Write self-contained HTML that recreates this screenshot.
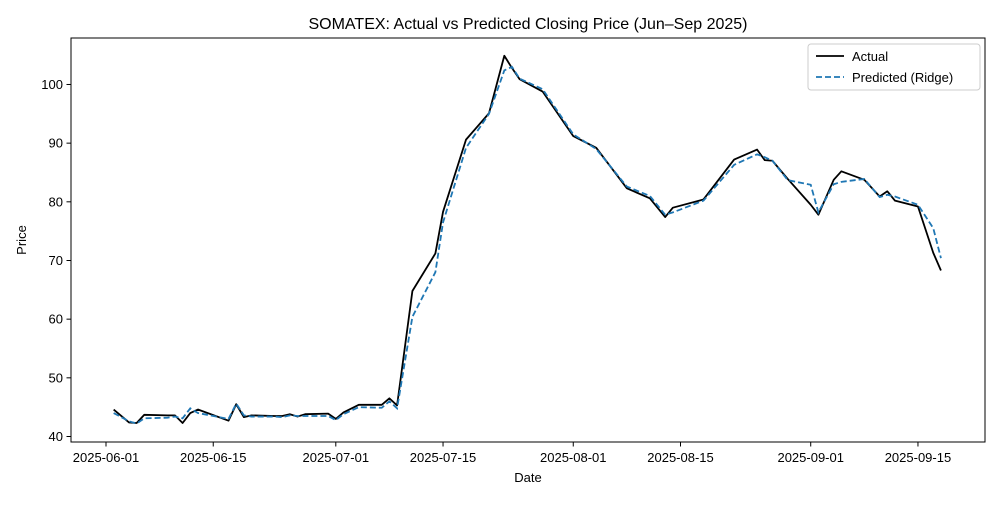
<!DOCTYPE html>
<html><head><meta charset="utf-8"><style>
body{margin:0;background:#fff}
svg text{font-family:"Liberation Sans","DejaVu Sans",sans-serif}
</style></head><body>
<svg id="chart" width="1000" height="500" xmlns="http://www.w3.org/2000/svg">
<rect width="1000" height="500" fill="#fff"/>
<text x="528" y="29" font-size="16" text-anchor="middle">SOMATEX: Actual vs Predicted Closing Price (Jun–Sep 2025)</text>
<text x="528" y="482" font-size="13" text-anchor="middle">Date</text>
<text x="26" y="240" font-size="13" text-anchor="middle" transform="rotate(-90 26 240)">Price</text>
<g id="ticks"></g>
<g id="series"></g>
<rect x="71" y="38" width="914" height="404" fill="none" stroke="#000" stroke-width="1"/>
<g>
<rect x="808" y="44" width="172" height="46" fill="#fff" stroke="#ccc" rx="3"/>
<line x1="816" y1="56" x2="844" y2="56" stroke="#000" stroke-width="1.8"/>
<text x="852" y="61" font-size="13">Actual</text>
<line x1="816" y1="77" x2="844" y2="77" stroke="#1f77b4" stroke-width="1.8" stroke-dasharray="6,3"/>
<text x="852" y="82" font-size="13">Predicted (Ridge)</text>
</g>
</svg>
<script>
const dates=["06-02","06-04","06-05","06-06","06-09","06-10","06-11","06-12","06-13","06-17","06-18","06-19","06-20","06-23","06-24","06-25","06-26","06-27","06-30","07-01","07-02","07-04","07-07","07-08","07-09","07-11","07-14","07-15","07-18","07-21","07-23","07-24","07-25","07-28","08-01","08-04","08-08","08-11","08-13","08-14","08-18","08-22","08-25","08-26","08-27","08-29","09-01","09-02","09-04","09-05","09-08","09-10","09-11","09-12","09-15","09-17","09-18"];
const actual=[44.6,42.4,42.3,43.7,43.6,43.6,42.3,44.0,44.6,42.7,45.5,43.3,43.6,43.5,43.5,43.8,43.4,43.8,43.9,43.0,44.1,45.4,45.4,46.5,45.3,64.8,71.2,78.3,90.6,95.1,104.9,102.8,100.9,98.8,91.2,89.2,82.3,80.6,77.4,79.0,80.4,87.2,88.9,87.1,87.0,83.9,79.5,77.8,83.75,85.2,83.75,80.9,81.8,80.2,79.2,71.3,68.3];
const predicted=[44.0,42.6,42.2,43.1,43.2,43.4,43.1,44.8,44.0,43.0,45.6,43.6,43.4,43.4,43.3,43.6,43.5,43.5,43.5,42.8,43.8,45.0,44.9,46.0,44.8,60.4,68.0,76.5,89.2,95.0,102.4,103.0,101.0,99.2,91.5,89.0,82.6,81.0,77.8,78.2,80.2,86.3,88.1,87.6,87.0,83.7,82.9,78.2,83.0,83.4,83.9,80.8,81.2,80.9,79.5,75.5,70.4];
const xTickLabels=["2025-06-01","2025-06-15","2025-07-01","2025-07-15","2025-08-01","2025-08-15","2025-09-01","2025-09-15"];
const yTicks=[40,50,60,70,80,90,100];

const NS="http://www.w3.org/2000/svg";
const t0=Date.UTC(2025,5,1);
function dayOf(s){return (Date.parse(s.length>5?s+"T00:00:00Z":"2025-"+s+"T00:00:00Z")-t0)/86400000;}
function xS(s){return 106+dayOf(s)*7.66;}
function yS(v){return 436.5-(v-40)*5.867;}
const tg=document.getElementById('ticks');
function mk(tag,attrs,parent){const e=document.createElementNS(NS,tag);for(const k in attrs)e.setAttribute(k,attrs[k]);parent.appendChild(e);return e;}
xTickLabels.forEach(l=>{const x=xS(l);
 const ln=mk('line',{x1:x,x2:x,y1:442,y2:446.5,stroke:'#000'},tg);
 
 
 const t=mk('text',{x:x,y:462,'font-size':13,'text-anchor':'middle'},tg);t.textContent=l;
 
 
});
yTicks.forEach(v=>{const y=yS(v);
 const ln=mk('line',{x1:66.5,x2:71,y1:y,y2:y,stroke:'#000'},tg);
 
 
 const t=mk('text',{x:63,y:y+4.5,'font-size':13,'text-anchor':'end'},tg);t.textContent=v;
 
 
});
const sg=document.getElementById('series');
const pa=mk('polyline',{points:dates.map((d,i)=>xS(d)+','+yS(actual[i])).join(' '),fill:'none',stroke:'#000','stroke-width':1.8,'stroke-linejoin':'round'},sg);


const pp=mk('polyline',{points:dates.map((d,i)=>xS(d)+','+yS(predicted[i])).join(' '),fill:'none',stroke:'#1f77b4','stroke-width':1.8,'stroke-dasharray':'6,3'},sg);


</script>
</body></html>
